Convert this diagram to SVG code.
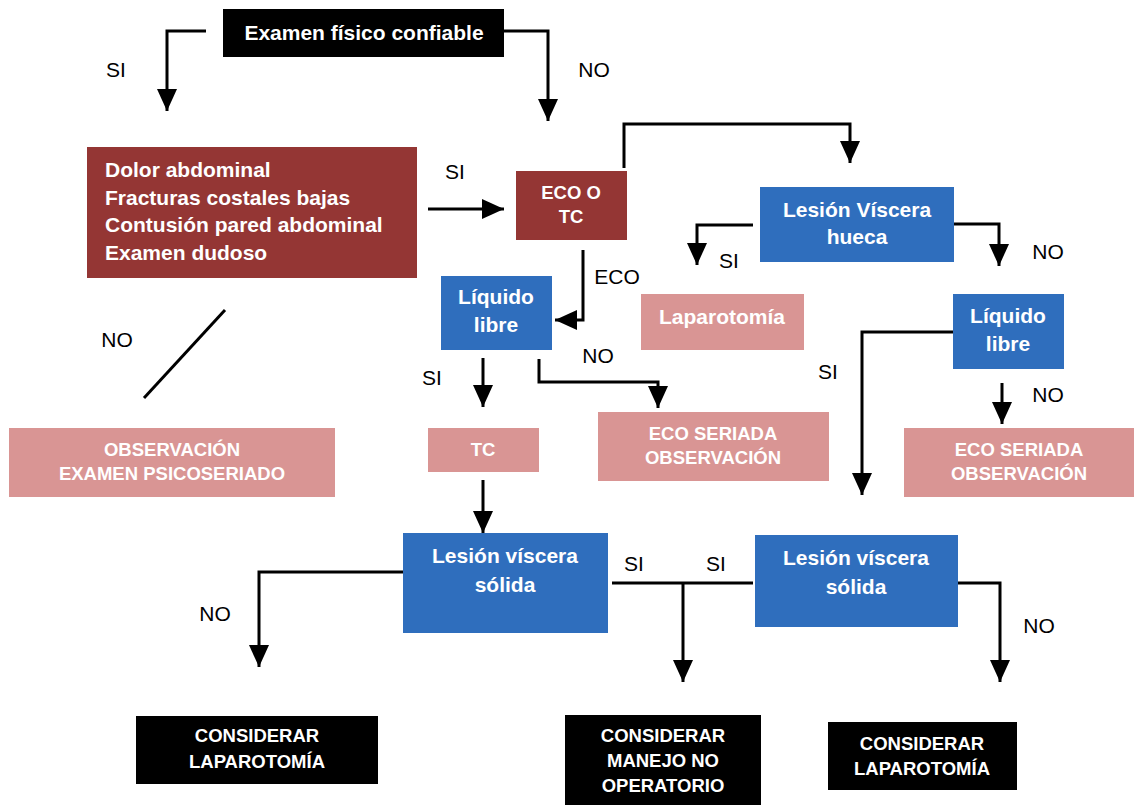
<svg xmlns="http://www.w3.org/2000/svg" width="1134" height="805" viewBox="0 0 1134 805">
<style>
.t{font-family:"Liberation Sans",Arial,sans-serif;font-weight:bold;fill:#fff;text-anchor:middle}
.b21{font-size:21px}
.b19{font-size:18.5px}
.lbl{font-family:"Liberation Sans",Arial,sans-serif;font-size:21px;fill:#000;text-anchor:middle}
.blk{fill:#000}
.red{fill:#943634}
.blue{fill:#2F6EBD}
.pink{fill:#D99594}
.c{fill:none;stroke:#000;stroke-width:3}
</style>
<defs>
<marker id="ah" markerUnits="userSpaceOnUse" markerWidth="22" markerHeight="22" viewBox="0 0 22 20" refX="22" refY="10" orient="auto">
<path d="M0,0 L22,10 L0,20 Z" fill="#000"/>
</marker>
</defs>
<rect width="1134" height="805" fill="#fff"/>
<g id="connectors">
<path class="c" d="M206,31 H167 V111" marker-end="url(#ah)"/>
<path class="c" d="M504,31 H548 V121" marker-end="url(#ah)"/>
<path class="c" d="M428,209 H504" marker-end="url(#ah)"/>
<path class="c" d="M624,168 V124 H850 V163" marker-end="url(#ah)"/>
<path class="c" d="M753,225 H697 V265" marker-end="url(#ah)"/>
<path class="c" d="M954,224 H999 V266" marker-end="url(#ah)"/>
<path class="c" d="M583,250 V320 H555" marker-end="url(#ah)"/>
<path class="c" d="M483,358 V407" marker-end="url(#ah)"/>
<path class="c" d="M539,359 V382 H658 V408" marker-end="url(#ah)"/>
<path class="c" d="M483,480 V533" marker-end="url(#ah)"/>
<path class="c" d="M953,332 H862 V495" marker-end="url(#ah)"/>
<path class="c" d="M1002,383 V424" marker-end="url(#ah)"/>
<path class="c" d="M225,310 L144,398"/>
<path class="c" d="M403,572 H259 V667" marker-end="url(#ah)"/>
<path class="c" d="M612,583 H753"/>
<path class="c" d="M683,583 V682" marker-end="url(#ah)"/>
<path class="c" d="M958,583 H1000 V682" marker-end="url(#ah)"/>
</g>
<g id="labels">
<text class="lbl" x="116" y="77">SI</text>
<text class="lbl" x="594" y="77">NO</text>
<text class="lbl" x="455" y="179">SI</text>
<text class="lbl" x="617" y="284">ECO</text>
<text class="lbl" x="729" y="268">SI</text>
<text class="lbl" x="1048" y="259">NO</text>
<text class="lbl" x="117" y="347">NO</text>
<text class="lbl" x="598" y="363">NO</text>
<text class="lbl" x="432" y="385">SI</text>
<text class="lbl" x="828" y="379">SI</text>
<text class="lbl" x="1048" y="402">NO</text>
<text class="lbl" x="634" y="571">SI</text>
<text class="lbl" x="716" y="571">SI</text>
<text class="lbl" x="215" y="621">NO</text>
<text class="lbl" x="1039" y="633">NO</text>
</g>
<g id="n-examen">
<rect class="blk" x="223" y="9" width="281" height="48"/>
<text class="t b21" x="364" y="40">Examen físico confiable</text>
</g>
<g id="n-sintomas">
<rect class="red" x="87" y="147" width="330" height="131"/>
<text class="t b21" style="text-anchor:start" x="105" y="177">Dolor abdominal</text>
<text class="t b21" style="text-anchor:start" x="105" y="204.5">Fracturas costales bajas</text>
<text class="t b21" style="text-anchor:start" x="105" y="232">Contusión pared abdominal</text>
<text class="t b21" style="text-anchor:start" x="105" y="259.5">Examen dudoso</text>
</g>
<g id="n-ecotc">
<rect class="red" x="516" y="171" width="111" height="69"/>
<text class="t b19" x="571" y="199">ECO O</text>
<text class="t b19" x="571" y="223">TC</text>
</g>
<g id="n-hueca">
<rect class="blue" x="760" y="187" width="194" height="75"/>
<text class="t b21" x="857" y="217">Lesión Víscera</text>
<text class="t b21" x="857" y="244">hueca</text>
</g>
<g id="n-liquido1">
<rect class="blue" x="441" y="276" width="111" height="74"/>
<text class="t b21" x="496" y="304">Líquido</text>
<text class="t b21" x="496" y="332">libre</text>
</g>
<g id="n-laparotomia">
<rect class="pink" x="641" y="294" width="163" height="56"/>
<text class="t b21" x="722" y="324">Laparotomía</text>
</g>
<g id="n-liquido2">
<rect class="blue" x="953" y="294" width="111" height="75"/>
<text class="t b21" x="1008" y="323">Líquido</text>
<text class="t b21" x="1008" y="351">libre</text>
</g>
<g id="n-observacion">
<rect class="pink" x="9" y="428" width="326" height="69"/>
<text class="t b19" x="172" y="456">OBSERVACIÓN</text>
<text class="t b19" x="172" y="480">EXAMEN PSICOSERIADO</text>
</g>
<g id="n-tc">
<rect class="pink" x="428" y="428" width="111" height="44"/>
<text class="t b19" x="483" y="456">TC</text>
</g>
<g id="n-ecoseriada1">
<rect class="pink" x="598" y="412" width="231" height="69"/>
<text class="t b19" x="713" y="440">ECO SERIADA</text>
<text class="t b19" x="713" y="464">OBSERVACIÓN</text>
</g>
<g id="n-ecoseriada2">
<rect class="pink" x="904" y="428" width="230" height="69"/>
<text class="t b19" x="1019" y="456">ECO SERIADA</text>
<text class="t b19" x="1019" y="480">OBSERVACIÓN</text>
</g>
<g id="n-solida1">
<rect class="blue" x="403" y="533" width="205" height="100"/>
<text class="t b21" x="505" y="563">Lesión víscera</text>
<text class="t b21" x="505" y="592">sólida</text>
</g>
<g id="n-solida2">
<rect class="blue" x="755" y="535" width="203" height="92"/>
<text class="t b21" x="856" y="565">Lesión víscera</text>
<text class="t b21" x="856" y="594">sólida</text>
</g>
<g id="n-lap1">
<rect class="blk" x="136" y="716" width="242" height="68"/>
<text class="t b19" x="257" y="742">CONSIDERAR</text>
<text class="t b19" x="257" y="768">LAPAROTOMÍA</text>
</g>
<g id="n-manejo">
<rect class="blk" x="565" y="715" width="196" height="90"/>
<text class="t b19" x="663" y="742">CONSIDERAR</text>
<text class="t b19" x="663" y="767">MANEJO NO</text>
<text class="t b19" x="663" y="792">OPERATORIO</text>
</g>
<g id="n-lap2">
<rect class="blk" x="828" y="722" width="189" height="68"/>
<text class="t b19" x="922" y="750">CONSIDERAR</text>
<text class="t b19" x="922" y="775">LAPAROTOMÍA</text>
</g>
</svg>
